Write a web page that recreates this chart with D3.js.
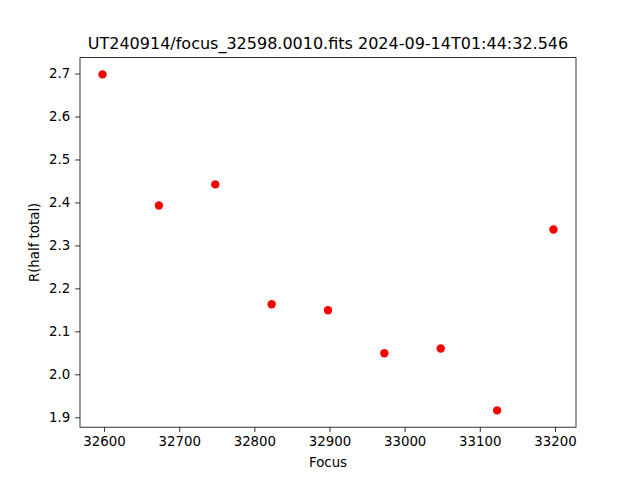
<!DOCTYPE html>
<html>
<head>
<meta charset="utf-8">
<script src="https://cdnjs.cloudflare.com/ajax/libs/d3/7.8.5/d3.min.js"></script>
<style>
  body { margin: 0; background: #fff; }
  svg { font-family: "DejaVu Sans", sans-serif; }
</style>
</head>
<body>
<div id="chart"></div>
<script>
// focus positions and half-total radius
var focus = [32598, 32673, 32748, 32823, 32898, 32973, 33048, 33123, 33198];
var rhalf = [2.698, 2.393, 2.442, 2.163, 2.149, 2.049, 2.060, 1.916, 2.337];
var xTicks = [32600, 32700, 32800, 32900, 33000, 33100, 33200];
var yTicks = [1.9, 2.0, 2.1, 2.2, 2.3, 2.4, 2.5, 2.6, 2.7];
var title = 'UT240914/focus_32598.0010.fits 2024-09-14T01:44:32.546';

var W = 640, H = 480;
var margin = { top: 57.6, right: 64, bottom: 52.8, left: 80 },
  width = W - margin.left - margin.right,
  height = H - margin.top - margin.bottom;

// matplotlib-like 5% padding
function padded(arr) {
  var lo = d3.min(arr), hi = d3.max(arr), p = (hi - lo) * 0.05;
  return [lo - p, hi + p];
}

var svg = d3.select('#chart')
  .append('svg')
    .attr('width', W)
    .attr('height', H);

var g = svg.append('g')
  .attr('transform', 'translate(' + margin.left + ',' + margin.top + ')');

var x = d3.scaleLinear().domain(padded(focus)).range([0, width]);
var y = d3.scaleLinear().domain(padded(rhalf)).range([height, 0]);

var xAxis = g.append('g')
  .attr('transform', 'translate(0,' + height + ')')
  .call(d3.axisBottom(x).tickValues(xTicks).tickFormat(d3.format('d')).tickSizeInner(4.9).tickSizeOuter(0).tickPadding(4.9));

var yAxis = g.append('g')
  .call(d3.axisLeft(y).tickValues(yTicks).tickFormat(d3.format('.1f')).tickSizeInner(4.9).tickSizeOuter(0).tickPadding(4.9));

[xAxis, yAxis].forEach(function (a) {
  a.select('.domain').remove();
  a.selectAll('line').attr('stroke', '#000').attr('stroke-width', 0.8);
  a.selectAll('text')
    .attr('fill', '#000')
    .style('font-family', '"DejaVu Sans", sans-serif')
    .style('font-size', '13.33px');
});

// frame
g.append('rect')
  .attr('width', width)
  .attr('height', height)
  .attr('fill', 'none')
  .attr('stroke', '#000')
  .attr('stroke-width', 0.8);

g.append('g')
  .selectAll('circle')
  .data(focus)
  .enter()
  .append('circle')
    .attr('cx', function (d) { return x(d); })
    .attr('cy', function (d, i) { return y(rhalf[i]); })
    .attr('r', 4.2)
    .attr('fill', 'red');

svg.append('text')
  .attr('x', margin.left + width / 2)
  .attr('y', margin.top - 8.3)
  .attr('text-anchor', 'middle')
  .style('font-size', '16px')
  .text(title);

svg.append('text')
  .attr('x', margin.left + width / 2)
  .attr('y', 467)
  .attr('text-anchor', 'middle')
  .style('font-size', '13.33px')
  .text('Focus');

svg.append('text')
  .attr('transform', 'translate(39,' + (margin.top + height / 2) + ') rotate(-90)')
  .attr('text-anchor', 'middle')
  .style('font-size', '13.33px')
  .text('R(half total)');
</script>
</body>
</html>
